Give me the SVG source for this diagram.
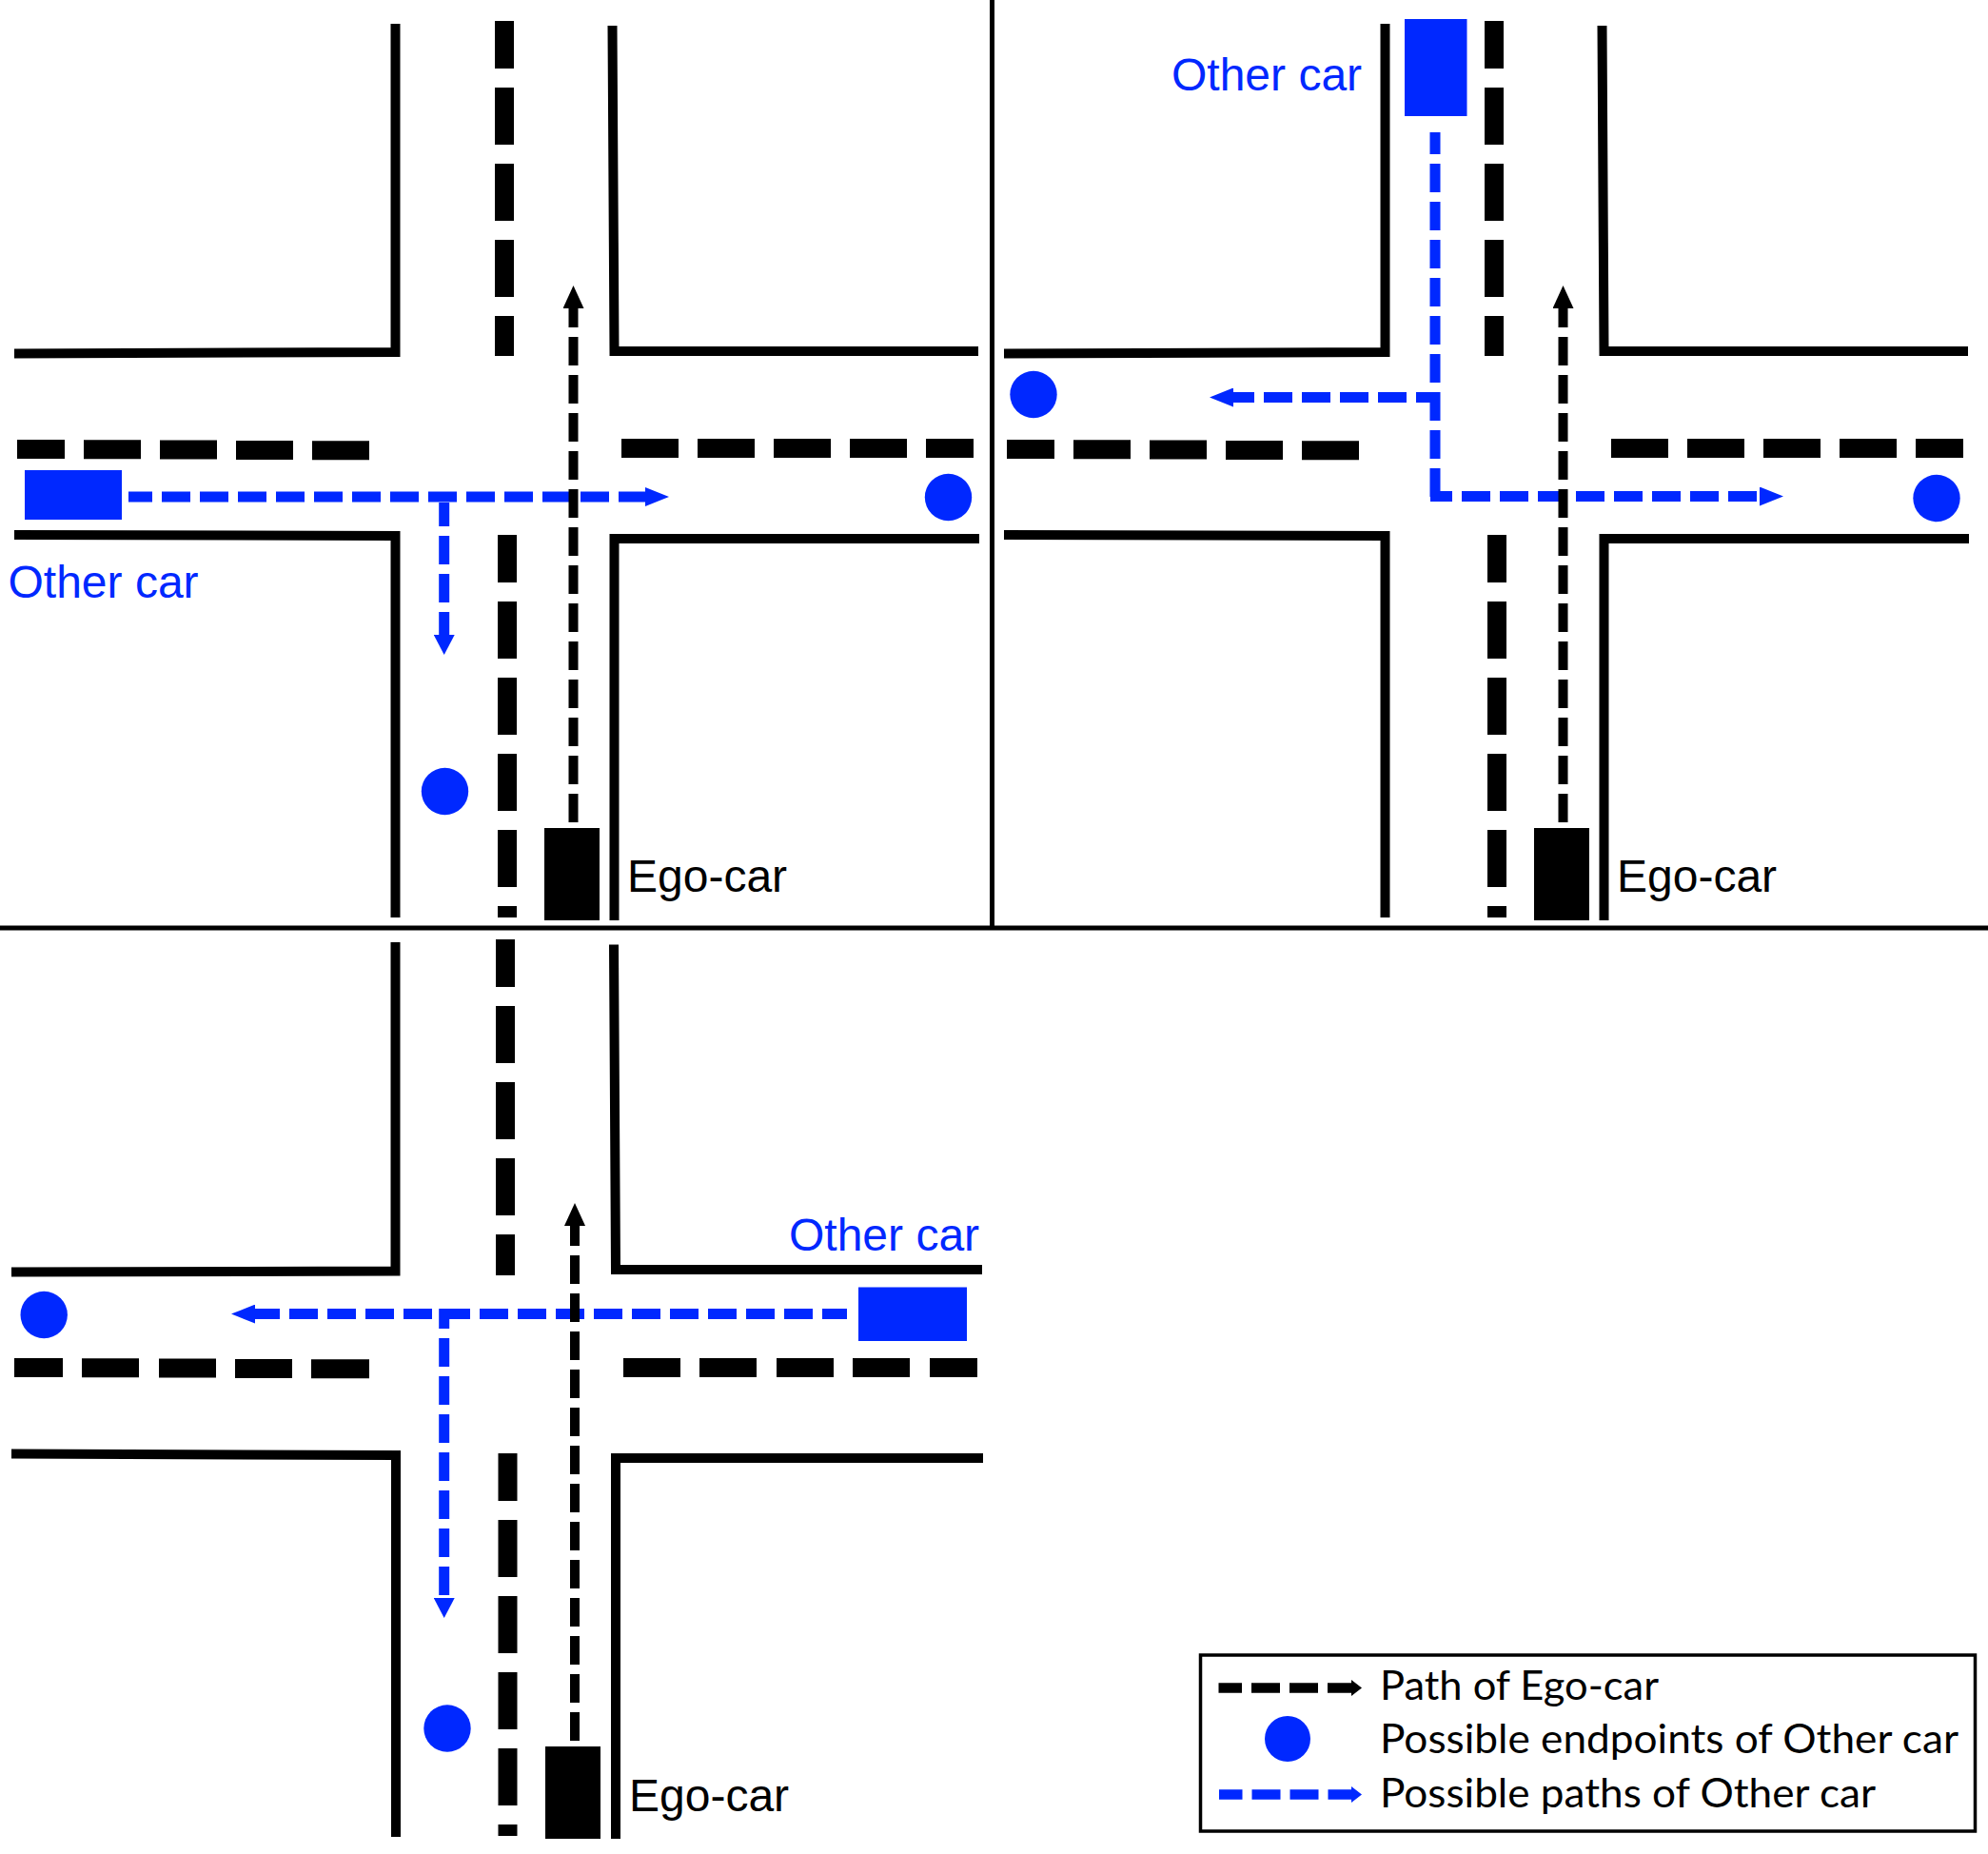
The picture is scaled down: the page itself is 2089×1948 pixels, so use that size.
<svg xmlns="http://www.w3.org/2000/svg" xmlns:xlink="http://www.w3.org/1999/xlink" width="2089" height="1948" viewBox="0 0 2089 1948">
<style>
.wall{fill:none;stroke:#000;stroke-width:10;stroke-linejoin:miter}
.lane{fill:none;stroke:#000;stroke-width:20}
.sep{stroke:#000;stroke-width:5}
.pb{fill:none;stroke:#0028ff;stroke-width:11;stroke-dasharray:30 10}
.pk{fill:none;stroke:#000;stroke-width:10;stroke-dasharray:30 10}
.blue{fill:#0028ff}
.black{fill:#000}
.lbl{font-family:"Liberation Sans",Arial,sans-serif;font-size:48px}
.leg{font-family:Lato,"Open Sans",sans-serif;font-size:43px;fill:#000}
</style>
<defs>
<marker id="hb" markerUnits="userSpaceOnUse" markerWidth="25" markerHeight="20" refX="1" refY="10" orient="auto" viewBox="0 0 25 20"><path d="M0 0L25 10L0 20Z" fill="#0028ff"/></marker>
<marker id="hbv" markerUnits="userSpaceOnUse" markerWidth="21" markerHeight="22" refX="1" refY="11" orient="auto" viewBox="0 0 21 22"><path d="M0 0L21 11L0 22Z" fill="#0028ff"/></marker>
<marker id="hk" markerUnits="userSpaceOnUse" markerWidth="24" markerHeight="22" refX="1" refY="11" orient="auto" viewBox="0 0 24 22"><path d="M0 0L24 11L0 22Z" fill="#000"/></marker>
<g id="road">
<path class="wall" d="M15 371.5L415.5 370V25"/>
<path class="wall" d="M643.5 27L645.5 369H1028"/>
<path class="wall" d="M15 562L415.5 563V964"/>
<path class="wall" d="M1029 566H645.5V967"/>
<path class="lane" d="M530 22V72M530 92V152M530 172V232M530 252V312M530 332V374"/>
<path class="lane" d="M533 562V612M533 632V692M533 712V772M533 792V852M533 872V932M533 952V964"/>
<path class="lane" d="M18 472H68M88 472.3H148M168 472.6H228M248 473H308M328 473.3H388"/>
<path class="lane" d="M653 471H713M733 471H793M813 471H873M893 471H953M973 471H1023"/>
</g>
</defs>
<rect width="2089" height="1948" fill="#fff"/>
<g id="separators">
<line class="sep" x1="1042.5" y1="0" x2="1042.5" y2="975"/>
<line class="sep" x1="0" y1="975" x2="2089" y2="975"/>
</g>
<g id="roads">
<use href="#road"/>
<use href="#road" transform="translate(1040 0)"/>
<g id="road-3">
<path class="wall" d="M12 1336.500L415.500 1335.500V990"/>
<path class="wall" d="M645 992.500L647 1334H1032"/>
<path class="wall" d="M12 1527.500L416 1529V1930"/>
<path class="wall" d="M1033 1532H647V1932"/>
<path class="lane" d="M531 987V1037M531 1057V1117M531 1137V1197M531 1217V1277M531 1297V1340"/>
<path class="lane" d="M533.500 1527V1577M533.500 1597V1657M533.500 1677V1737M533.500 1757V1817M533.500 1837V1897M533.500 1917V1929"/>
<path class="lane" d="M15 1437H66M86 1437.300H146M167 1437.600H227M247 1438H307M327 1438.300H388"/>
<path class="lane" d="M655 1437H715M735 1437H795M816 1437H876M896 1437H956M977 1437H1027"/>
</g>
</g>
<g id="connectors">
<path class="pb" stroke-dashoffset="5" d="M135 522H679" marker-end="url(#hb)"/>
<path class="pb" stroke-dashoffset="5" d="M466.700 528V668" marker-end="url(#hbv)"/>
<path class="pk" d="M602.500 864V323" marker-end="url(#hk)"/>
<path class="pb" stroke-dashoffset="7" d="M1508 139V522"/>
<path class="pb" stroke-dashoffset="7" d="M1503 521.500H1850" marker-end="url(#hb)"/>
<path class="pb" stroke-dashoffset="6" d="M1512 417.500H1295" marker-end="url(#hb)"/>
<path class="pk" d="M1642.500 864V323" marker-end="url(#hk)"/>
<path class="pb" stroke-dashoffset="4" d="M890 1380.600H267" marker-end="url(#hb)"/>
<path class="pb" stroke-dashoffset="9" d="M466.700 1375V1680" marker-end="url(#hbv)"/>
<path class="pk" d="M604 1829V1287" marker-end="url(#hk)"/>
</g>
<g id="panel-1">
<g id="other-car-1"><rect class="blue" x="26" y="494" width="102" height="52"/><text class="lbl blue" x="8.500" y="628">Other car</text></g>
<g id="ego-car-1"><rect class="black" x="572" y="870" width="58" height="97"/><text class="lbl black" x="659" y="937">Ego-car</text></g>
<circle id="end-1a" class="blue" cx="996.500" cy="522.500" r="24.700"/>
<circle id="end-1b" class="blue" cx="467.500" cy="831.500" r="24.700"/>
</g>
<g id="panel-2">
<g id="other-car-2"><rect class="blue" x="1476" y="20" width="65.500" height="102"/><text class="lbl blue" x="1231" y="95">Other car</text></g>
<g id="ego-car-2"><rect class="black" x="1612" y="870" width="58" height="97"/><text class="lbl black" x="1699" y="937">Ego-car</text></g>
<circle id="end-2a" class="blue" cx="1086" cy="414.500" r="24.700"/>
<circle id="end-2b" class="blue" cx="2035" cy="523.500" r="24.700"/>
</g>
<g id="panel-3">
<g id="other-car-3"><rect class="blue" x="902" y="1352.500" width="114" height="56.500"/><text class="lbl blue" x="829" y="1314">Other car</text></g>
<g id="ego-car-3"><rect class="black" x="573" y="1835" width="58" height="97"/><text class="lbl black" x="661" y="1902.500">Ego-car</text></g>
<circle id="end-3a" class="blue" cx="46.200" cy="1381.500" r="24.700"/>
<circle id="end-3b" class="blue" cx="470" cy="1816" r="24.700"/>
</g>
<g id="legend">
<rect x="1261.500" y="1739" width="814" height="185" fill="#fff" stroke="#000" stroke-width="3.500"/>
<path d="M1280.500 1773.500H1420" fill="none" stroke="#000" stroke-width="10.700" stroke-dasharray="30 10" stroke-dashoffset="5.500"/>
<path class="black" d="M1420 1765L1431 1773.500L1420 1782Z"/>
<circle class="blue" cx="1353" cy="1827" r="24"/>
<path d="M1281 1885.500H1420" fill="none" stroke="#0028ff" stroke-width="10.700" stroke-dasharray="30 10" stroke-dashoffset="5.500"/>
<path class="blue" d="M1420 1877L1431 1885.500L1420 1894Z"/>
<text class="leg" x="1450" y="1786" textLength="293" lengthAdjust="spacingAndGlyphs">Path of Ego-car</text>
<text class="leg" x="1450" y="1842" textLength="608" lengthAdjust="spacingAndGlyphs">Possible endpoints of Other car</text>
<text class="leg" x="1450" y="1899" textLength="521" lengthAdjust="spacingAndGlyphs">Possible paths of Other car</text>
</g>
</svg>
